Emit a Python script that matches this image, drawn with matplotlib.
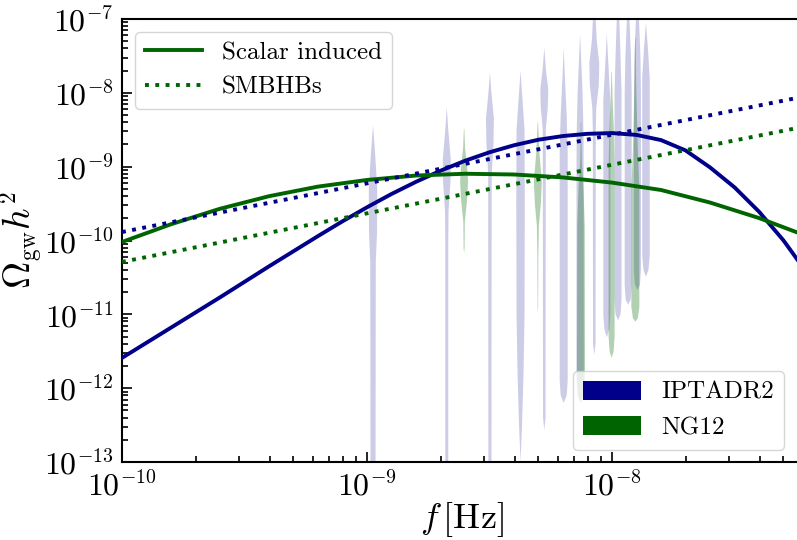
import numpy as np
import matplotlib
matplotlib.use("Agg")
import matplotlib.pyplot as plt
import matplotlib._mathtext as _mt
from matplotlib.patches import Patch
from matplotlib.lines import Line2D

_mt.SHRINK_FACTOR = 0.62
plt.rcParams['mathtext.fontset'] = 'cm'
plt.rcParams['font.family'] = ['cmr10', 'DejaVu Serif']
plt.rcParams['axes.formatter.use_mathtext'] = True

# ---------------- data ----------------
# scalar-induced spectra, log10 f and log10 Omega h^2
ipta_si_logf = [-10.0, -9.8, -9.6, -9.4, -9.2, -9.1, -9.0, -8.9, -8.8, -8.7, -8.6, -8.5,
                -8.4, -8.3, -8.2, -8.1, -8.0, -7.9, -7.8, -7.7, -7.6, -7.5, -7.4, -7.3, -7.2]
ipta_si_logO = [-11.59, -11.18, -10.77, -10.35, -9.94, -9.74, -9.55, -9.37, -9.205, -9.055,
                -8.92, -8.805, -8.71, -8.635, -8.585, -8.555, -8.545, -8.57, -8.64, -8.78,
                -9.01, -9.28, -9.61, -10.0, -10.46]
ng12_si_logf = [-10.0, -9.8, -9.6, -9.4, -9.2, -9.0, -8.8, -8.6, -8.4, -8.2, -8.0, -7.8,
                -7.6, -7.4, -7.2]
ng12_si_logO = [-10.02, -9.78, -9.57, -9.40, -9.27, -9.18, -9.12, -9.096, -9.106, -9.146,
                -9.216, -9.316, -9.486, -9.696, -9.946]
# SMBHB power laws (end points)
smbhb_f = [1e-10, 6e-8]
ipta_smbhb = [10**-9.885, 10**-8.054]
ng12_smbhb = [10**-10.29, 10**-8.462]

# violin positions (harmonics k/T)
ipta_f1 = 1.058e-9
ng12_f1 = 2.49e-9
# violin profiles: log10 Omega knots and relative density
ipta_viol_L = [
    [-8.44, -8.8, -9.3, -9.9, -10.3, -13.5],
    [-8.19, -8.5, -8.9, -9.2, -9.6, -10.0, -13.5],
    [-7.72, -8.0, -8.35, -8.7, -9.1, -13.5],
    [-7.7, -8.0, -8.5, -9.5, -11.0, -11.8, -12.5, -13.0],
    [-7.39, -7.7, -7.95, -8.2, -8.5, -12.4, -12.57],
    [-7.38, -7.8, -8.3, -8.8, -11.9, -12.1, -12.2],
    [-7.2, -7.6, -8.0, -8.6, -11.8, -12.1, -12.2],
    [-6.9, -7.3, -7.6, -7.9, -8.2, -8.5, -11.4, -11.55],
    [-7.2, -7.6, -8.1, -11.0, -11.2, -11.31],
    [-6.9, -7.5, -8.0, -10.8, -11.0, -11.08],
    [-6.9, -7.5, -8.0, -10.6, -10.8, -10.87],
    [-6.9, -7.5, -8.0, -10.4, -10.6, -10.67],
    [-7.05, -7.4, -7.8, -10.2, -10.4, -10.49],
]
ipta_viol_d = [
    [0.0, 0.4, 0.85, 0.8, 0.55, 0.5],
    [0.0, 0.3, 0.8, 0.75, 0.35, 0.3, 0.3],
    [0.0, 0.3, 0.8, 0.7, 0.35, 0.3],
    [0.0, 0.3, 0.8, 0.85, 0.8, 0.6, 0.3, 0.0],
    [0.0, 0.35, 0.8, 0.7, 0.3, 0.25, 0.0],
    [0.0, 0.25, 0.6, 0.8, 0.8, 0.6, 0.0],
    [0.0, 0.25, 0.5, 0.7, 0.75, 0.5, 0.0],
    [0.2, 0.5, 1.0, 0.9, 0.4, 0.3, 0.25, 0.0],
    [0.0, 0.3, 0.7, 0.7, 0.5, 0.0],
    [0.2, 0.5, 0.7, 0.7, 0.5, 0.0],
    [0.2, 0.55, 0.7, 0.7, 0.5, 0.0],
    [0.25, 0.6, 0.7, 0.7, 0.5, 0.0],
    [0.0, 0.4, 0.75, 0.75, 0.5, 0.0],
]
ng12_viol_L = [
    [-8.49, -8.75, -9.0, -9.2, -9.45, -9.75, -10.1, -10.17],
    [-8.4, -8.8, -9.2, -9.5, -9.8, -10.2, -10.9, -10.98],
    [-8.4, -8.9, -9.3, -9.8, -11.9, -12.1, -12.2],
    [-7.72, -8.1, -8.5, -9.0, -11.3, -11.5, -11.59],
    [-7.26, -8.0, -8.8, -9.3, -10.9, -11.05, -11.1],
]
ng12_viol_d = [
    [0.05, 0.2, 0.6, 0.8, 0.6, 0.15, 0.1, 0.0],
    [0.05, 0.3, 0.8, 0.6, 0.2, 0.1, 0.05, 0.0],
    [0.05, 0.15, 0.5, 0.75, 0.8, 0.6, 0.0],
    [0.05, 0.2, 0.45, 0.6, 0.6, 0.4, 0.0],
    [0.05, 0.2, 0.5, 0.8, 0.8, 0.5, 0.0],
]

blue = '#00008B'
green = '#006400'

# ---------------- figure ----------------
fig = plt.figure(figsize=(7.97, 5.4), dpi=100)
ax = fig.add_axes([122/797, 78/540, 680.7/797, 443/540])
ax.set_xscale('log')
ax.set_yscale('log')

HALF = 5.0/245.0   # half width (in decades) of density 1


def violin(f0, L, d, color, alpha):
    L = np.asarray(L, float)
    hw = HALF*np.asarray(d, float)
    ax.fill_betweenx(10**L, f0*10**(-hw), f0*10**hw, facecolor=color,
                     alpha=alpha, lw=0, zorder=1)


for k, (L, d) in enumerate(zip(ipta_viol_L, ipta_viol_d), start=1):
    violin(k*ipta_f1, L, d, blue, 0.2)
for k, (L, d) in enumerate(zip(ng12_viol_L, ng12_viol_d), start=1):
    violin(k*ng12_f1, L, d, green, 0.3)

LW = 2.8
ax.plot(10**np.array(ipta_si_logf), 10**np.array(ipta_si_logO), color=blue, lw=LW, zorder=3)
ax.plot(10**np.array(ng12_si_logf), 10**np.array(ng12_si_logO), color=green, lw=LW, zorder=3)
ax.plot(smbhb_f, ipta_smbhb, color=blue, lw=LW, ls=':', zorder=3)
ax.plot(smbhb_f, ng12_smbhb, color=green, lw=LW, ls=':', zorder=3)

ax.set_xlim(1e-10, 6e-8)
ax.set_ylim(1e-13, 1e-7)

ax.tick_params(which='both', direction='in', labelsize=23, width=1.2)
ax.tick_params(which='major', length=7, pad=6)
ax.tick_params(which='minor', length=4)
for s in ax.spines.values():
    s.set_linewidth(1.5)

ax.set_xlabel(r'$f\,[{\rm Hz}]$', fontsize=26)
ax.set_ylabel(r'$\Omega_{\rm gw}h^2$', fontsize=27)
ax.xaxis.set_label_coords(0.5, -0.086)
ax.yaxis.set_label_coords(-0.111, 0.5)

h1 = [Line2D([], [], color=green, lw=LW),
      Line2D([], [], color=green, lw=LW, ls=':')]
leg1 = ax.legend(h1, ['Scalar induced', 'SMBHBs'], loc='upper left', fontsize=18,
                 handlelength=2.3)
ax.add_artist(leg1)
h2 = [Patch(facecolor=blue), Patch(facecolor=green)]
ax.legend(h2, ['IPTADR2', 'NG12'], loc='lower right', fontsize=18,
          handlelength=2.3, handleheight=0.8, bbox_to_anchor=(0.9905, 0.0))

fig.savefig('out.png', dpi=100)
